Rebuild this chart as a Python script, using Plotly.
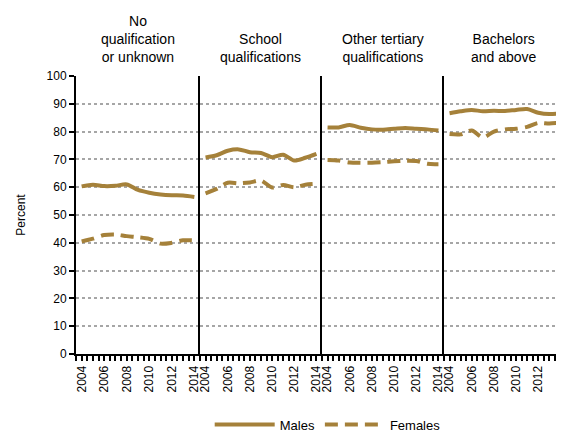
import plotly.graph_objects as go
from plotly.subplots import make_subplots

years = list(range(2004, 2015))
panels = ["No<br>qualification<br>or unknown", "School<br>qualifications",
          "Other tertiary<br>qualifications", "Bachelors<br>and above"]

males = [
    [60.3, 60.9, 60.4, 60.5, 61.0, 59.0, 58.0, 57.4, 57.1, 57.0, 56.5],
    [70.7, 71.5, 73.1, 73.6, 72.6, 72.3, 70.8, 71.7, 69.6, 70.6, 72.0],
    [81.5, 81.5, 82.4, 81.4, 80.8, 80.7, 81.0, 81.3, 81.0, 80.8, 80.4],
    [86.6, 87.3, 87.8, 87.3, 87.5, 87.4, 87.8, 88.1, 86.8, 86.3, 86.5],
]
females = [
    [40.5, 41.5, 42.8, 43.0, 42.4, 42.0, 41.4, 39.7, 40.0, 40.9, 40.9],
    [57.8, 59.4, 61.6, 61.4, 61.7, 62.4, 59.9, 60.8, 60.0, 60.9, 61.2],
    [69.8, 69.6, 68.9, 68.8, 68.8, 69.0, 69.3, 69.5, 69.4, 68.4, 68.3],
    [79.1, 79.0, 80.4, 77.9, 80.0, 80.8, 81.0, 81.7, 83.1, 82.9, 83.2],
]
yticks = list(range(0, 101, 10))
xlabels = [2004, 2006, 2008, 2010, 2012, 2014]

COLOR = "#A5813A"
FONT = "Liberation Sans, Arial"
W, H = 556, 426
ML, MR, MT, MB = 68, 0, 68, 80
pw = W - ML - MR
widths = [124, 122, 122, 120]

fig = make_subplots(rows=1, cols=4, shared_yaxes=True, horizontal_spacing=0,
                    column_widths=[w / pw for w in widths])

for i in range(4):
    fig.add_trace(go.Scatter(x=years, y=males[i], mode="lines", name="Males",
                             line=dict(color=COLOR, width=4, shape="spline", smoothing=0.8),
                             showlegend=(i == 0), legendgroup="m"), row=1, col=i + 1)
    fig.add_trace(go.Scatter(x=years, y=females[i], mode="lines", name="Females",
                             line=dict(color=COLOR, width=4, shape="spline", smoothing=0.8,
                                       dash="13px,7px"),
                             showlegend=(i == 0), legendgroup="f"), row=1, col=i + 1)

unit = 122 / 11.0
for i in range(4):
    hi = 2014.5 if i < 3 else 2003.5 + widths[3] / unit
    fig.update_xaxes(row=1, col=i + 1, range=[2003.5, hi], tickvals=xlabels,
                     ticktext=[str(v) for v in xlabels], tickangle=-90,
                     ticks="outside", ticklen=5, tickwidth=1.5, tickcolor="black",
                     minor=dict(dtick=0.5, tick0=2003.5, ticks="outside", ticklen=5,
                                tickwidth=1.5, tickcolor="black"),
                     showline=True, linecolor="black", linewidth=2, showgrid=False,
                     zeroline=False, fixedrange=True,
                     tickfont=dict(family=FONT, size=12, color="black"))
    fig.update_yaxes(row=1, col=i + 1, range=[0, 100], tickvals=yticks,
                     showgrid=True, gridcolor="#A6A6A6", gridwidth=1.5, griddash="dot",
                     showline=True, linecolor="black", linewidth=2, zeroline=False,
                     ticks="outside" if i == 0 else "", ticklen=5, tickwidth=1.5,
                     tickcolor="black", showticklabels=(i == 0),
                     tickfont=dict(family=FONT, size=12, color="black"))
    xd = fig.layout["xaxis" + ("" if i == 0 else str(i + 1))].domain
    cx = (xd[0] + xd[1]) / 2
    fig.add_annotation(text=panels[i], x=cx, xref="paper", y=1.0, yref="paper",
                       xanchor="center", yanchor="bottom", yshift=9, showarrow=False,
                       align="center",
                       font=dict(family=FONT, size=14, color="black"))

fig.update_yaxes(row=1, col=1, title=dict(text="Percent", standoff=18,
                 font=dict(family=FONT, size=12, color="black")))

fig.update_layout(
    width=W, height=H, margin=dict(l=ML, r=MR, t=MT, b=MB),
    paper_bgcolor="white", plot_bgcolor="white",
    legend=dict(orientation="h", xref="container", yref="container",
                x=0.575, y=0.022, xanchor="center", yanchor="middle",
                font=dict(family=FONT, size=13, color="black"),
                itemwidth=60, bgcolor="rgba(0,0,0,0)"),
    showlegend=True,
)

fig.write_html("out.html")
